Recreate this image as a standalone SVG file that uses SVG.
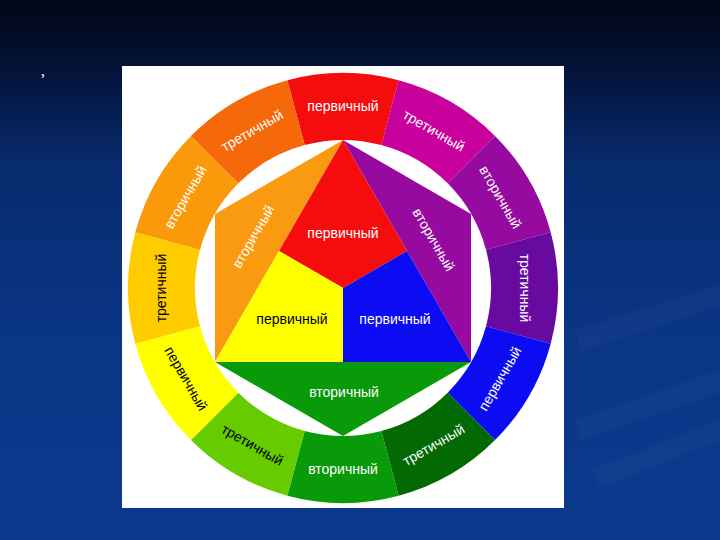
<svg xmlns="http://www.w3.org/2000/svg" xmlns:xlink="http://www.w3.org/1999/xlink" width="720" height="540" viewBox="0 0 720 540">
  <defs>
    <linearGradient id="bg" x1="0" y1="0" x2="0" y2="1">
      <stop offset="0" stop-color="#010617"/>
      <stop offset="0.12" stop-color="#031236"/>
      <stop offset="0.3" stop-color="#082a6e"/>
      <stop offset="0.6" stop-color="#0a3584"/>
      <stop offset="1" stop-color="#0b3a8f"/>
    </linearGradient>
    <path id="seg" d="M287.35,80.33 A215,215 0 0 1 398.65,80.33 L381.31,145.04 A148,148 0 0 0 304.69,145.04 Z"/>
    <style>
      text { font-family: "Liberation Sans", Arial, sans-serif; font-size: 14px; text-anchor: middle; }
      .w { fill: #ffffff; }
      .k { fill: #000000; }
    </style>
  </defs>

  <rect x="0" y="0" width="720" height="540" fill="url(#bg)"/>
  <g fill="#ffffff" opacity="0.025">
    <polygon points="575,330 720,285 720,305 580,352"/>
    <polygon points="575,420 720,370 720,392 580,440"/>
    <polygon points="590,470 720,420 720,440 600,488"/>
  </g>
  <text x="43" y="76" class="w" style="font-family: 'Liberation Serif', serif; font-size: 16px;">,</text>

  <rect x="122" y="66" width="442" height="442" fill="#ffffff"/>

  <g id="ring">
    <g id="seg-red"><use xlink:href="#seg" fill="#f50c0c"/><text class="w" transform="rotate(0 343 288)" x="343" y="111">первичный</text></g>
    <g id="seg-magenta"><use xlink:href="#seg" fill="#c8009c" transform="rotate(30 343 288)"/><text class="w" transform="rotate(30 343 288)" x="343" y="111">третичный</text></g>
    <g id="seg-purple"><use xlink:href="#seg" fill="#960aa0" transform="rotate(60 343 288)"/><text class="w" transform="rotate(60 343 288)" x="343" y="111">вторичный</text></g>
    <g id="seg-violet"><use xlink:href="#seg" fill="#680aa0" transform="rotate(90 343 288)"/><text class="w" transform="rotate(90 343 288)" x="343" y="111">третичный</text></g>
    <g id="seg-blue"><use xlink:href="#seg" fill="#0c0cf2" transform="rotate(120 343 288)"/><text class="w" transform="rotate(-60 343 288)" x="343" y="474">первичный</text></g>
    <g id="seg-darkgreen"><use xlink:href="#seg" fill="#036a03" transform="rotate(150 343 288)"/><text class="w" transform="rotate(-30 343 288)" x="343" y="474">третичный</text></g>
    <g id="seg-green"><use xlink:href="#seg" fill="#089a08" transform="rotate(180 343 288)"/><text class="w" x="343" y="474">вторичный</text></g>
    <g id="seg-yellowgreen"><use xlink:href="#seg" fill="#66cc00" transform="rotate(210 343 288)"/><text class="k" transform="rotate(30 343 288)" x="343" y="474">третичный</text></g>
    <g id="seg-yellow"><use xlink:href="#seg" fill="#ffff00" transform="rotate(240 343 288)"/><text class="k" transform="rotate(60 343 288)" x="343" y="474">первичный</text></g>
    <g id="seg-yelloworange"><use xlink:href="#seg" fill="#ffcc00" transform="rotate(270 343 288)"/><text class="k" transform="rotate(-90 343 288)" x="343" y="111">третичный</text></g>
    <g id="seg-orange"><use xlink:href="#seg" fill="#fa9a0a" transform="rotate(300 343 288)"/><text class="w" transform="rotate(-60 343 288)" x="343" y="111">вторичный</text></g>
    <g id="seg-redorange"><use xlink:href="#seg" fill="#f5690a" transform="rotate(330 343 288)"/><text class="w" transform="rotate(-30 343 288)" x="343" y="111">третичный</text></g>
  </g>

  <g id="inner">
    <g id="tri-orange"><polygon points="343,140 215,214 215,362" fill="#f99a10"/><text class="w" transform="rotate(-60 254 237)" x="254" y="241">вторичный</text></g>
    <g id="tri-purple"><polygon points="343,140 471,214 471,362" fill="#960aa0"/><text class="w" transform="rotate(60 433 240)" x="433" y="244">вторичный</text></g>
    <g id="tri-green"><polygon points="215,362 471,362 343,436" fill="#089a08"/><text class="w" x="344" y="397">вторичный</text></g>
    <g id="prim-red"><polygon points="343,140 279,251 343,288 407,251" fill="#f50c0c"/><text class="w" x="343" y="238">первичный</text></g>
    <g id="prim-yellow"><polygon points="279,251 343,288 343,362 215,362" fill="#ffff00"/><text class="k" x="292" y="324">первичный</text></g>
    <g id="prim-blue"><polygon points="407,251 343,288 343,362 471,362" fill="#0c0cf2"/><text class="w" x="395" y="324">первичный</text></g>
  </g>
</svg>
